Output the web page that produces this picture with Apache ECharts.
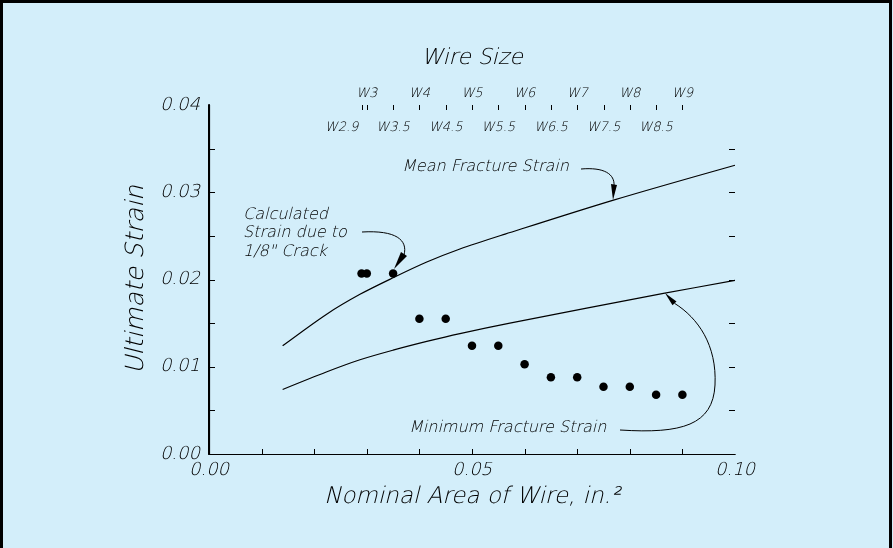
<!DOCTYPE html>
<html>
<head>
<meta charset="utf-8">
<script src="https://cdn.jsdelivr.net/npm/echarts@6/dist/echarts.min.js"></script>
<style>
html, body { margin: 0; padding: 0; background: #d3eefa; }
#chart { width: 893px; height: 548px; }
</style>
</head>
<body>
<div id="chart"></div>
<script>
// wire sizes, W number = nominal area in hundredths of in^2
var wireTop = [3, 4, 5, 6, 7, 8, 9];
var wireInner = [2.9, 3.5, 4.5, 5.5, 6.5, 7.5, 8.5];
var xLabelVals = [0, 0.05, 0.1];
var yLabelVals = [0, 0.01, 0.02, 0.03, 0.04];
var xTickVals = [0.01, 0.02, 0.03, 0.04, 0.05, 0.06, 0.07, 0.08, 0.09];
var yTickVals = [0.005, 0.01, 0.015, 0.02, 0.025, 0.03, 0.035];

// fracture strain curves [area, strain]
var meanCurve = [
  [0.014, 0.0124], [0.0223, 0.0160], [0.0287, 0.0183], [0.035, 0.0202],
  [0.0414, 0.0220], [0.0477, 0.0235], [0.0563, 0.0252], [0.0769, 0.0291],
  [0.1, 0.0331]
];
var minCurve = [
  [0.014, 0.0074], [0.0223, 0.0094], [0.0287, 0.0108], [0.035, 0.0119],
  [0.0414, 0.0129], [0.0477, 0.0138], [0.0572, 0.0150], [0.0864, 0.0184],
  [0.1, 0.0199]
];
// calculated strain due to 1/8" crack
var crackPoints = [
  [0.029, 0.0207], [0.030, 0.0207], [0.035, 0.0207],
  [0.040, 0.0155], [0.045, 0.0155], [0.050, 0.0124], [0.055, 0.0124],
  [0.060, 0.0103], [0.065, 0.0088], [0.070, 0.0088], [0.075, 0.0077],
  [0.080, 0.0077], [0.085, 0.0068], [0.090, 0.0068]
];

var FONT = "'DejaVu Sans Light', 'DejaVu Sans ExtraLight', 'DejaVu Sans'";
var ink = '#000';
function txt (size) {
  return { fontFamily: FONT, fontStyle: 'italic', fontSize: size, color: ink };
}
function note (x, y, s) {
  return { type: 'text', x: x, y: y, style: { text: s, fontFamily: FONT, fontStyle: 'italic', fontSize: 16, fill: ink, verticalAlign: 'middle', align: 'left' } };
}
function wName (v) {
  return 'W' + (+(v * 100).toFixed(1));
}
var topTicks = wireTop.concat(wireInner).map(function (w) { return w / 100; }).sort(function (a, b) { return a - b; });
var thin = { stroke: '#000', lineWidth: 1, fill: null };

// short inward tick marks, placed through the axis scales
function ticks (name, xi, yi, pts, dx, dy) {
  return {
    name: name, type: 'custom', xAxisIndex: xi, yAxisIndex: yi, data: pts, silent: true,
    renderItem: function (params, api) {
      var p = api.coord([api.value(0), api.value(1)]);
      var x = dx ? p[0] : Math.round(p[0]) + 0.5;
      var y = dy ? p[1] : Math.round(p[1]) + 0.5;
      return { type: 'line', shape: { x1: x, y1: y, x2: x + dx, y2: y + dy }, style: { stroke: '#000', lineWidth: 1 } };
    }
  };
}

var chart = echarts.init(document.getElementById('chart'));
chart.setOption({
  backgroundColor: '#d3eefa',
  animation: false,
  grid: { left: 209, right: 158, top: 105, bottom: 94 },
  xAxis: [
    {
      type: 'value', position: 'bottom', min: 0, max: 0.1, interval: 0.01,
      name: 'Nominal Area of Wire, in.²', nameLocation: 'middle', nameGap: 32,
      nameTextStyle: txt(23),
      axisLine: { lineStyle: { color: '#000', width: 1.2 } },
      axisTick: { show: false },
      axisLabel: Object.assign({ customValues: xLabelVals, margin: 7, formatter: function (v) { return v.toFixed(2); } }, txt(18)),
      splitLine: { show: false }
    },
    {
      type: 'value', position: 'top', min: 0, max: 0.1,
      name: 'Wire Size', nameLocation: 'middle', nameGap: 36,
      nameTextStyle: txt(22),
      axisLine: { lineStyle: { color: '#000', width: 1 } },
      axisTick: { show: false },
      axisLabel: Object.assign({ customValues: wireTop.map(function (w) { return w / 100; }), margin: 5, formatter: wName }, txt(13)),
      splitLine: { show: false }
    },
    {
      type: 'value', position: 'top', min: 0, max: 0.1,
      axisLine: { show: false },
      axisTick: { show: false },
      axisLabel: Object.assign({
        inside: true, margin: 16,
        customValues: wireInner.map(function (w) { return w / 100; }),
        formatter: function (v) { return v < 0.03 ? '{a|' + wName(v) + '}' : wName(v); },
        rich: { a: Object.assign({ padding: [0, 40, 0, 0] }, txt(13)) }
      }, txt(13)),
      splitLine: { show: false }
    }
  ],
  yAxis: [
    {
      type: 'value', position: 'left', min: 0, max: 0.04, interval: 0.005,
      name: 'Ultimate Strain', nameLocation: 'middle', nameGap: 59, nameRotate: 90,
      nameTextStyle: txt(25),
      axisLine: { show: true, lineStyle: { color: '#000', width: 1.2 } },
      axisTick: { show: false },
      axisLabel: Object.assign({ customValues: yLabelVals, margin: 9, formatter: function (v) { return v.toFixed(2); } }, txt(18)),
      splitLine: { show: false }
    },
    {
      type: 'value', position: 'right', min: 0, max: 0.04, interval: 0.005,
      axisLine: { show: true, lineStyle: { color: '#000', width: 2 } },
      axisTick: { show: false },
      axisLabel: { show: false },
      splitLine: { show: false }
    }
  ],
  series: [
    {
      name: 'Mean Fracture Strain', type: 'line', data: meanCurve, smooth: 0.3,
      showSymbol: false, lineStyle: { color: '#000', width: 1.2 }
    },
    {
      name: 'Minimum Fracture Strain', type: 'line', data: minCurve, smooth: 0.3,
      showSymbol: false, lineStyle: { color: '#000', width: 1.2 }
    },
    {
      name: 'Calculated Strain', type: 'scatter', data: crackPoints,
      symbolSize: 8.5, itemStyle: { color: '#000', opacity: 1 }
    },
    ticks('Top ticks', 1, 0, topTicks.map(function (v) { return [v, 0.04]; }), 0, 5),
    ticks('Bottom ticks', 0, 0, xTickVals.map(function (v) { return [v, 0]; }), 0, -5),
    ticks('Left ticks', 0, 0, yTickVals.map(function (v) { return [0, v]; }), 6, 0),
    ticks('Right ticks', 0, 1, yTickVals.map(function (v) { return [0.1, v]; }), -6, 0)
  ],
  graphic: [
    // outer frame
    { type: 'polyline', shape: { points: [[1.5, 548], [1.5, 1.5], [890.5, 1.5], [890.5, 548]] },
      style: { stroke: '#000', lineWidth: 3, fill: null } },
    // Mean Fracture Strain note
    note(402, 167, 'Mean Fracture Strain'),
    { type: 'bezierCurve', shape: { x1: 581, y1: 169, cpx1: 604, cpy1: 167, cpx2: 615, cpy2: 174, x2: 614, y2: 186 }, style: thin },
    { type: 'polygon', shape: { points: [[611, 184], [617, 185], [613, 200]] }, style: { fill: '#000' } },
    // Calculated strain note
    note(243, 215, 'Calculated'),
    note(243, 233, 'Strain due to'),
    note(243, 251.5, '1/8" Crack'),
    { type: 'bezierCurve', shape: { x1: 362, y1: 232, cpx1: 396, cpy1: 230, cpx2: 408, cpy2: 240, x2: 404, y2: 255 }, style: thin },
    { type: 'polygon', shape: { points: [[401, 252], [407, 256], [394, 269]] }, style: { fill: '#000' } },
    // Minimum Fracture Strain note
    note(409, 428, 'Minimum Fracture Strain'),
    { type: 'bezierCurve', shape: { x1: 620, y1: 430, cpx1: 682, cpy1: 434, cpx2: 713, cpy2: 425, x2: 715, y2: 385 }, style: thin },
    { type: 'bezierCurve', shape: { x1: 715, y1: 385, cpx1: 717, cpy1: 345, cpx2: 698, cpy2: 318, x2: 674.5, y2: 303.3 }, style: thin },
    { type: 'polygon', shape: { points: [[676.5, 301.4], [672.5, 305.2], [665, 293]] }, style: { fill: '#000' } }
  ]
});
</script>
</body>
</html>
